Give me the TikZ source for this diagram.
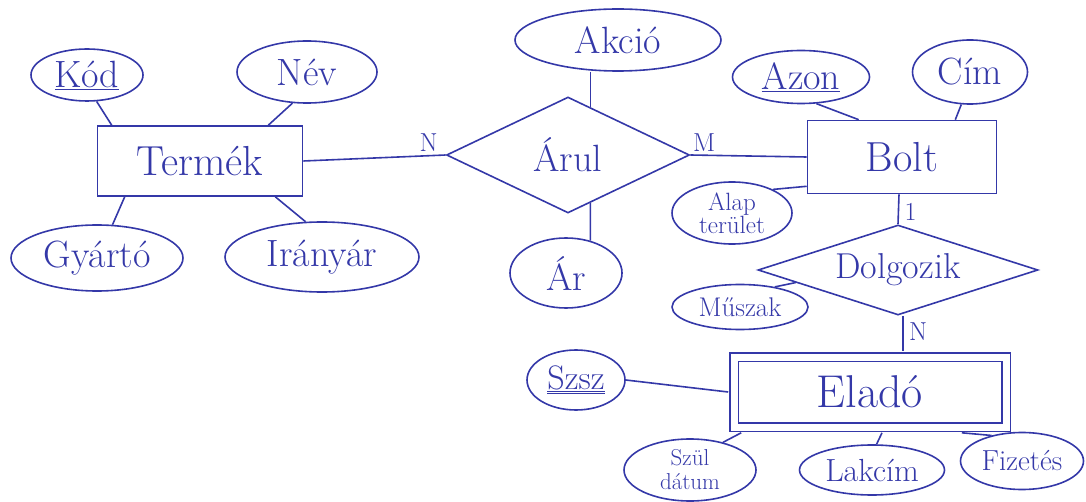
\documentclass[tikz,border=0pt]{standalone}
\usepackage{fontspec}
\usetikzlibrary{shapes.geometric}
\definecolor{ink}{RGB}{52,56,168}
\begin{document}
\begin{tikzpicture}[x=1pt, y=-1pt, ink, line width=1.6pt,
    attr/.style={ellipse, draw=ink, text=ink, inner sep=0pt, font=\fontsize{38}{40}\selectfont},
    small/.style={font=\fontsize{25}{22}\selectfont, align=center},
    entity/.style={rectangle, draw=ink, text=ink, inner sep=0pt, font=\fontsize{42}{44}\selectfont},
    rel/.style={diamond, draw=ink, text=ink, inner sep=0pt, font=\fontsize{38}{40}\selectfont},
    card/.style={text=ink, font=\fontsize{26}{28}\selectfont}]
  \useasboundingbox (0,0) rectangle (1086,502);

  % Termek
  \node[entity, minimum width=205, minimum height=70](termek) at (200,161) {Termék};
  \node[attr, minimum width=112, minimum height=52](kod) at (87,75) {\underline{Kód}};
  \node[attr, minimum width=140, minimum height=62](nev) at (307,72) {Név};
  \node[attr, minimum width=172, minimum height=66](gyarto) at (97,258) {Gyártó};
  \node[attr, minimum width=194, minimum height=70](iranyar) at (322,257) {Irányár};

  % Arul
  \node[rel, shape aspect=2.1, minimum width=243, minimum height=116](arul) at (568,155) {Árul};
  \node[attr, minimum width=206, minimum height=62](akcio) at (618,40) {Akció};
  \node[attr, minimum width=112, minimum height=70](ar) at (566,273) {Ár};

  % Bolt
  \node[entity, minimum width=189, minimum height=73](bolt) at (902,157) {Bolt};
  \node[attr, minimum width=137, minimum height=53](azon) at (801,77) {\underline{Azon}};
  \node[attr, minimum width=115, minimum height=64](cim) at (970,72) {Cím};
  \node[attr, small, minimum width=120, minimum height=62](alap) at (732,213) {Alap\\terület};

  % Dolgozik
  \node[rel, shape aspect=3.1, font=\fontsize{36}{38}\selectfont, minimum width=280, minimum height=90](dolg) at (898,270) {Dolgozik};
  \node[attr, font=\fontsize{27}{29}\selectfont, minimum width=136, minimum height=45](muszak) at (740,307) {Műszak};

  % Elado
  \node[entity, font=\fontsize{46}{48}\selectfont, double=white, double distance=7pt, minimum width=272, minimum height=70](elado) at (870,392) {Eladó};
  \node[attr, font=\fontsize{34}{36}\selectfont, minimum width=98, minimum height=60](szsz) at (576,380) {\underline{\underline{Szsz}}};
  \node[attr, small, font=\fontsize{23}{24}\selectfont, minimum width=132, minimum height=62](szul) at (690,470) {Szül\\dátum};
  \node[attr, font=\fontsize{32}{34}\selectfont, minimum width=145, minimum height=50](lakcim) at (872,470) {Lakcím};
  \node[attr, font=\fontsize{29}{31}\selectfont, minimum width=123, minimum height=57](fizetes) at (1022,461) {Fizetés};

  \draw (kod.-70) -- ([xshift=15pt]termek.north west);
  \draw (nev.-115) -- ([xshift=-35pt]termek.north east);
  \draw ([xshift=28pt]termek.south west) -- (gyarto.65);
  \draw ([xshift=-28pt]termek.south east) -- (iranyar.115);

  \draw (termek.east) -- node[card, pos=0.88, above] {N} (arul.west);
  \draw (arul.east) -- node[card, pos=0.12, above] {M} (bolt.west);
  \draw (akcio.south -| arul.65) -- (arul.65);
  \draw (arul.-65) -- (ar.53);

  \draw (azon.-60) -- ([xshift=52pt]bolt.north west);
  \draw (cim.-105) -- ([xshift=-42pt]bolt.north east);
  \draw ([yshift=8pt]bolt.south west) -- (alap.30);

  \draw ([xshift=-3pt]bolt.south) -- node[card, right=2pt, pos=0.6] {1} (dolg.north);
  \draw ([xshift=5pt]dolg.south) -- node[card, right=2pt, pos=0.45] {N} ([xshift=5pt, yshift=5pt]elado.north -| dolg.south);
  \draw (muszak.30) -- (dolg.187);

  \draw (szsz.east) -- ([xshift=-5pt]elado.west);
  \draw ([xshift=8pt, yshift=-5pt]elado.south west) -- (szul.40);
  \draw ([xshift=12pt, yshift=-5pt]elado.south) -- (lakcim.80);
  \draw ([xshift=-45pt, yshift=-5pt]elado.south east) -- (fizetes.140);
\end{tikzpicture}
\end{document}
